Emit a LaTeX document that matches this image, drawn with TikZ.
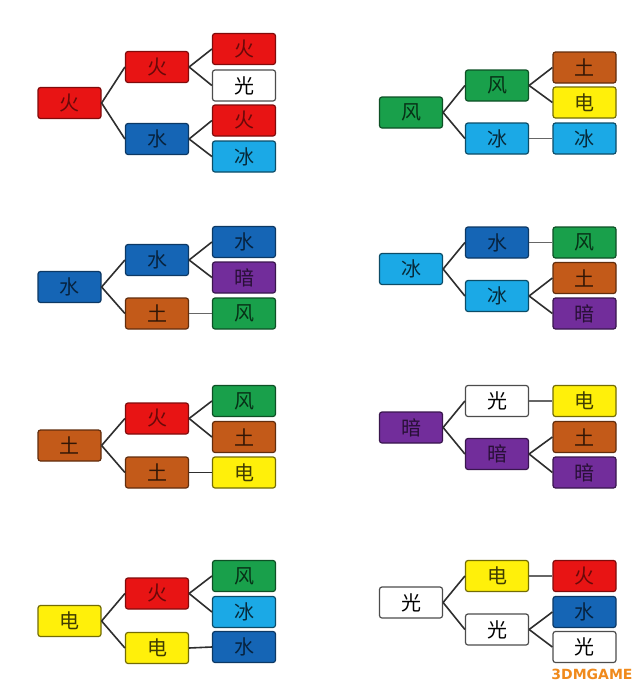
\documentclass[tikz,border=0pt]{standalone}
\usepackage{fontspec}
\newfontfamily\cjk{Noto Sans CJK SC}
\newfontfamily\wmfont{DejaVu Sans}
\definecolor{cHuo}{HTML}{E81414}
\definecolor{cShui}{HTML}{1565B5}
\definecolor{cBing}{HTML}{1BA9E6}
\definecolor{cFeng}{HTML}{19A04B}
\definecolor{cTu}{HTML}{C35A19}
\definecolor{cDian}{HTML}{FFF00A}
\definecolor{cAn}{HTML}{722D9B}
\definecolor{cLink}{HTML}{2E2E2E}
\definecolor{cWm}{HTML}{F08A1C}
\begin{document}
\begin{tikzpicture}[x=1pt,y=-1pt,
  box/.style={rounded corners=2.5pt, minimum width=63pt, minimum height=31pt, inner sep=0pt, line width=1.2pt, font=\cjk\fontsize{20}{20}\selectfont},
  huo/.style={box, fill=cHuo, draw=cHuo!55!black, text=cHuo!45!black},
  shui/.style={box, fill=cShui, draw=cShui!55!black, text=cShui!35!black},
  bing/.style={box, fill=cBing, draw=cBing!45!black, text=cBing!25!black},
  feng/.style={box, fill=cFeng, draw=cFeng!50!black, text=cFeng!30!black},
  tu/.style={box, fill=cTu, draw=cTu!50!black, text=cTu!25!black},
  dian/.style={box, fill=cDian, draw=cDian!45!black, text=cDian!25!black},
  an/.style={box, fill=cAn, draw=cAn!50!black, text=cAn!35!black},
  guang/.style={box, fill=white, draw=black!70, text=black},
  link/.style={draw=cLink, line width=1.6pt},
  hlink/.style={draw=black!60, line width=1.6pt}]
\useasboundingbox (0,0) rectangle (640,689);
\fill[white] (0,0) rectangle (640,689);

% ---------- Group 1 left: 火 ----------
\node[huo] (a1r) at (69.5,103) {火};
\node[huo] (a1m1) at (157,67) {火};
\node[shui] (a1m2) at (157,139) {水};
\node[huo] (a1l1) at (244,49) {火};
\node[guang] (a1l2) at (244,85.5) {光};
\node[huo] (a1l3) at (244,120.5) {火};
\node[bing] (a1l4) at (244,156.5) {冰};
\draw[link] (a1r.east) -- (a1m1.west);
\draw[link] (a1r.east) -- (a1m2.west);
\draw[link] (a1m1.east) -- (a1l1.west);
\draw[link] (a1m1.east) -- (a1l2.west);
\draw[link] (a1m2.east) -- (a1l3.west);
\draw[link] (a1m2.east) -- (a1l4.west);

% ---------- Group 1 right: 风 ----------
\node[feng] (b1r) at (411,112.5) {风};
\node[feng] (b1m1) at (497,85.5) {风};
\node[bing] (b1m2) at (497,138.5) {冰};
\node[tu] (b1l1) at (584.5,67.5) {土};
\node[dian] (b1l2) at (584.5,102.5) {电};
\node[bing] (b1l3) at (584.5,138.5) {冰};
\draw[link] (b1r.east) -- (b1m1.west);
\draw[link] (b1r.east) -- (b1m2.west);
\draw[link] (b1m1.east) -- (b1l1.west);
\draw[link] (b1m1.east) -- (b1l2.west);
\draw[hlink] (b1m2.east) -- (b1l3.west);

% ---------- Group 2 left: 水 ----------
\node[shui] (a2r) at (69.5,287) {水};
\node[shui] (a2m1) at (157,260) {水};
\node[tu] (a2m2) at (157,313.5) {土};
\node[shui] (a2l1) at (244,242) {水};
\node[an] (a2l2) at (244,277.5) {暗};
\node[feng] (a2l3) at (244,313.5) {风};
\draw[link] (a2r.east) -- (a2m1.west);
\draw[link] (a2r.east) -- (a2m2.west);
\draw[link] (a2m1.east) -- (a2l1.west);
\draw[link] (a2m1.east) -- (a2l2.west);
\draw[hlink] (a2m2.east) -- (a2l3.west);

% ---------- Group 2 right: 冰 ----------
\node[bing] (b2r) at (411,269) {冰};
\node[shui] (b2m1) at (497,242.5) {水};
\node[bing] (b2m2) at (497,296) {冰};
\node[feng] (b2l1) at (584.5,242.5) {风};
\node[tu] (b2l2) at (584.5,278) {土};
\node[an] (b2l3) at (584.5,313.5) {暗};
\draw[link] (b2r.east) -- (b2m1.west);
\draw[link] (b2r.east) -- (b2m2.west);
\draw[hlink] (b2m1.east) -- (b2l1.west);
\draw[link] (b2m2.east) -- (b2l2.west);
\draw[link] (b2m2.east) -- (b2l3.west);

% ---------- Group 3 left: 土 ----------
\node[tu] (a3r) at (69.5,445.5) {土};
\node[huo] (a3m1) at (157,418.5) {火};
\node[tu] (a3m2) at (157,472.5) {土};
\node[feng] (a3l1) at (244,401) {风};
\node[tu] (a3l2) at (244,437) {土};
\node[dian] (a3l3) at (244,472.5) {电};
\draw[link] (a3r.east) -- (a3m1.west);
\draw[link] (a3r.east) -- (a3m2.west);
\draw[link] (a3m1.east) -- (a3l1.west);
\draw[link] (a3m1.east) -- (a3l2.west);
\draw[link] (a3m2.east) -- (a3l3.west);

% ---------- Group 3 right: 暗 ----------
\node[an] (b3r) at (411,427.5) {暗};
\node[guang] (b3m1) at (497,401) {光};
\node[an] (b3m2) at (497,454) {暗};
\node[dian] (b3l1) at (584.5,401) {电};
\node[tu] (b3l2) at (584.5,437) {土};
\node[an] (b3l3) at (584.5,472.5) {暗};
\draw[link] (b3r.east) -- (b3m1.west);
\draw[link] (b3r.east) -- (b3m2.west);
\draw[hlink] (b3m1.east) -- (b3l1.west);
\draw[link] (b3m2.east) -- (b3l2.west);
\draw[link] (b3m2.east) -- (b3l3.west);

% ---------- Group 4 left: 电 ----------
\node[dian] (a4r) at (69.5,621) {电};
\node[huo] (a4m1) at (157,593.5) {火};
\node[dian] (a4m2) at (157,648) {电};
\node[feng] (a4l1) at (244,576) {风};
\node[bing] (a4l2) at (244,612) {冰};
\node[shui] (a4l3) at (244,647) {水};
\draw[link] (a4r.east) -- (a4m1.west);
\draw[link] (a4r.east) -- (a4m2.west);
\draw[link] (a4m1.east) -- (a4l1.west);
\draw[link] (a4m1.east) -- (a4l2.west);
\draw[link] (a4m2.east) -- (a4l3.west);

% ---------- Group 4 right: 光 ----------
\node[guang] (b4r) at (411,602.5) {光};
\node[dian] (b4m1) at (497,576) {电};
\node[guang] (b4m2) at (497,629.5) {光};
\node[huo] (b4l1) at (584.5,576) {火};
\node[shui] (b4l2) at (584.5,612) {水};
\node[guang] (b4l3) at (584.5,647) {光};
\draw[link] (b4r.east) -- (b4m1.west);
\draw[link] (b4r.east) -- (b4m2.west);
\draw[hlink] (b4m1.east) -- (b4l1.west);
\draw[link] (b4m2.east) -- (b4l2.west);
\draw[link] (b4m2.east) -- (b4l3.west);

% ---------- watermark ----------
\node[font=\wmfont\bfseries\fontsize{14}{14}\selectfont, text=cWm, inner sep=0pt] (wm) at (592,674) {3DMGAME};
\end{tikzpicture}
\end{document}
